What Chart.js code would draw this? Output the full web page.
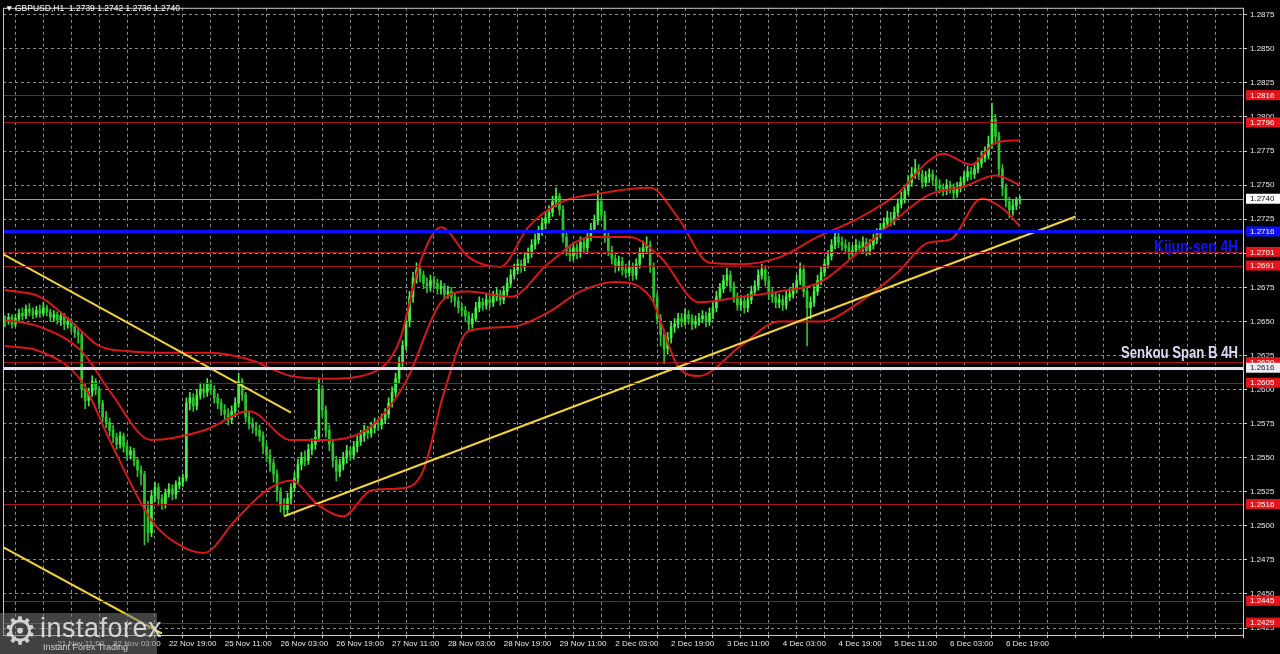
<!DOCTYPE html>
<html>
<head>
<meta charset="utf-8">
<script src="https://cdn.jsdelivr.net/npm/chart.js@4.4.1/dist/chart.umd.min.js"></script>
<style>
  html, body { margin: 0; padding: 0; background: #000; }
  #wrap { position: relative; width: 1280px; height: 654px; overflow: hidden; }
  #logo { position: absolute; left: 0; top: 613px; width: 157px; height: 41px;
          background: rgba(120,120,120,0.55); font-family: "Liberation Sans", Arial, sans-serif; }
  #logo .gear { position: absolute; left: 3px; top: -4px; font-size: 38px; color: rgba(235,235,235,0.85);
                font-family: "DejaVu Sans", sans-serif; }
  #logo .brand { position: absolute; left: 40px; top: 0px; font-size: 27px; letter-spacing: 0.5px;
                 color: rgba(235,235,235,0.85); }
  #logo .tag { position: absolute; left: 43px; top: 29px; font-size: 9px; color: rgba(235,235,235,0.8); }
</style>
</head>
<body>
<div id="wrap">
  <canvas id="myChart" width="1280" height="654"></canvas>
  <div id="logo"><div class="gear">⚙</div><div class="brand">instaforex</div><div class="tag">Instant Forex Trading</div></div>
</div>
<script>
// GBPUSD H1, bars from 20 Nov 20:00 to 6 Dec 23:00 (bar index = x value)
const closes = [
  1.2650,1.2653,1.2648,1.2652,1.2656,1.2654,1.2659,1.2657,1.2655,1.2658,
  1.2656,1.2660,1.2657,1.2653,1.2655,1.2651,1.2654,1.2648,1.2650,1.2646,
  1.2642,1.2640,1.2600,1.2592,1.2598,1.2606,1.2600,1.2590,1.2580,1.2576,
  1.2570,1.2565,1.2560,1.2566,1.2558,1.2552,1.2555,1.2548,1.2541,1.2538,
  1.2512,1.2495,1.2522,1.2528,1.2520,1.2516,1.2524,1.2527,1.2523,1.2530,
  1.2532,1.2535,1.2590,1.2594,1.2588,1.2596,1.2600,1.2598,1.2604,1.2600,
  1.2594,1.2590,1.2585,1.2582,1.2578,1.2584,1.2590,1.2606,1.2596,1.2580,
  1.2575,1.2572,1.2570,1.2566,1.2558,1.2552,1.2546,1.2538,1.2525,1.2515,
  1.2512,1.2520,1.2528,1.2535,1.2545,1.2550,1.2548,1.2556,1.2560,1.2565,
  1.2600,1.2585,1.2570,1.2560,1.2548,1.2540,1.2545,1.2550,1.2555,1.2552,
  1.2558,1.2562,1.2566,1.2570,1.2568,1.2572,1.2575,1.2574,1.2578,1.2582,
  1.2590,1.2598,1.2608,1.2620,1.2632,1.2650,1.2668,1.2682,1.2688,1.2684,
  1.2678,1.2676,1.2680,1.2678,1.2674,1.2676,1.2670,1.2672,1.2668,1.2665,
  1.2660,1.2658,1.2654,1.2648,1.2652,1.2660,1.2664,1.2662,1.2666,1.2664,
  1.2668,1.2670,1.2666,1.2672,1.2678,1.2684,1.2688,1.2692,1.2690,1.2696,
  1.2700,1.2706,1.2710,1.2716,1.2722,1.2726,1.2730,1.2738,1.2742,1.2732,
  1.2712,1.2702,1.2698,1.2704,1.2700,1.2708,1.2704,1.2712,1.2718,1.2724,
  1.2738,1.2728,1.2712,1.2702,1.2696,1.2690,1.2694,1.2688,1.2686,1.2690,
  1.2684,1.2692,1.2700,1.2704,1.2706,1.2690,1.2668,1.2652,1.2640,1.2630,
  1.2638,1.2646,1.2648,1.2652,1.2650,1.2655,1.2652,1.2648,1.2650,1.2652,
  1.2654,1.2650,1.2656,1.2660,1.2668,1.2674,1.2680,1.2684,1.2676,1.2668,
  1.2662,1.2665,1.2660,1.2666,1.2672,1.2676,1.2684,1.2688,1.2680,1.2670,
  1.2668,1.2664,1.2666,1.2662,1.2668,1.2670,1.2674,1.2680,1.2688,1.2672,
  1.2660,1.2664,1.2672,1.2680,1.2686,1.2692,1.2698,1.2706,1.2712,1.2708,
  1.2706,1.2704,1.2700,1.2702,1.2706,1.2704,1.2708,1.2702,1.2706,1.2710,
  1.2714,1.2718,1.2722,1.2726,1.2724,1.2730,1.2736,1.2740,1.2746,1.2752,
  1.2758,1.2762,1.2758,1.2752,1.2756,1.2758,1.2754,1.2750,1.2748,1.2746,
  1.2750,1.2748,1.2744,1.2748,1.2752,1.2756,1.2760,1.2758,1.2762,1.2766,
  1.2770,1.2772,1.2780,1.2798,1.2786,1.2762,1.2748,1.2738,1.2732,1.2735,
  1.2739,1.2740
];
const highs = [
  1.2654,1.2656,1.2655,1.2655,1.2659,1.2660,1.2662,1.2663,1.2660,1.2661,
  1.2662,1.2664,1.2662,1.2659,1.2658,1.2657,1.2657,1.2656,1.2653,1.2652,
  1.2648,1.2645,1.2642,1.2604,1.2601,1.2610,1.2608,1.2602,1.2592,1.2584,
  1.2579,1.2574,1.2568,1.2569,1.2568,1.2561,1.2558,1.2557,1.2550,1.2544,
  1.2540,1.2518,1.2526,1.2532,1.2531,1.2523,1.2527,1.2531,1.2530,1.2533,
  1.2536,1.2538,1.2594,1.2598,1.2597,1.2600,1.2605,1.2604,1.2608,1.2607,
  1.2603,1.2597,1.2593,1.2589,1.2586,1.2588,1.2594,1.2612,1.2608,1.2598,
  1.2584,1.2579,1.2576,1.2574,1.2569,1.2561,1.2556,1.2549,1.2541,1.2528,
  1.2520,1.2524,1.2531,1.2539,1.2549,1.2554,1.2555,1.2560,1.2564,1.2570,
  1.2608,1.2603,1.2588,1.2574,1.2563,1.2551,1.2549,1.2554,1.2559,1.2558,
  1.2562,1.2566,1.2570,1.2574,1.2573,1.2576,1.2579,1.2578,1.2582,1.2586,
  1.2594,1.2602,1.2612,1.2624,1.2636,1.2654,1.2672,1.2686,1.2693,1.2691,
  1.2687,1.2682,1.2684,1.2683,1.2681,1.2680,1.2678,1.2676,1.2675,1.2671,
  1.2668,1.2663,1.2661,1.2657,1.2656,1.2664,1.2668,1.2667,1.2670,1.2669,
  1.2672,1.2674,1.2673,1.2676,1.2682,1.2688,1.2692,1.2696,1.2695,1.2700,
  1.2704,1.2710,1.2714,1.2720,1.2726,1.2730,1.2735,1.2742,1.2748,1.2744,
  1.2735,1.2715,1.2706,1.2708,1.2707,1.2712,1.2711,1.2716,1.2722,1.2728,
  1.2746,1.2741,1.2731,1.2715,1.2705,1.2699,1.2698,1.2697,1.2692,1.2694,
  1.2693,1.2696,1.2704,1.2709,1.2712,1.2709,1.2693,1.2671,1.2655,1.2644,
  1.2642,1.2650,1.2652,1.2656,1.2656,1.2659,1.2658,1.2655,1.2654,1.2656,
  1.2658,1.2657,1.2660,1.2664,1.2672,1.2678,1.2684,1.2689,1.2687,1.2679,
  1.2671,1.2669,1.2668,1.2670,1.2676,1.2680,1.2688,1.2692,1.2691,1.2683,
  1.2674,1.2671,1.2670,1.2669,1.2672,1.2674,1.2678,1.2684,1.2693,1.2691,
  1.2675,1.2668,1.2676,1.2684,1.2690,1.2696,1.2702,1.2710,1.2717,1.2715,
  1.2712,1.2710,1.2708,1.2706,1.2710,1.2709,1.2712,1.2711,1.2710,1.2714,
  1.2718,1.2722,1.2726,1.2731,1.2730,1.2734,1.2740,1.2745,1.2750,1.2757,
  1.2763,1.2769,1.2765,1.2761,1.2760,1.2762,1.2761,1.2757,1.2754,1.2751,
  1.2754,1.2753,1.2751,1.2752,1.2756,1.2760,1.2764,1.2763,1.2766,1.2770,
  1.2775,1.2778,1.2786,1.2810,1.2802,1.2789,1.2765,1.2751,1.2741,1.2739,
  1.2741,1.2742
];
const lows = [
  1.2646,1.2648,1.2645,1.2646,1.2650,1.2651,1.2652,1.2654,1.2652,1.2653,
  1.2653,1.2654,1.2654,1.2650,1.2650,1.2648,1.2647,1.2644,1.2645,1.2642,
  1.2638,1.2634,1.2594,1.2586,1.2588,1.2595,1.2596,1.2586,1.2576,1.2572,
  1.2566,1.2561,1.2556,1.2557,1.2554,1.2548,1.2549,1.2544,1.2536,1.2530,
  1.2486,1.2488,1.2492,1.2518,1.2515,1.2512,1.2513,1.2521,1.2519,1.2520,
  1.2527,1.2529,1.2533,1.2585,1.2584,1.2585,1.2593,1.2594,1.2595,1.2596,
  1.2590,1.2586,1.2581,1.2578,1.2574,1.2575,1.2580,1.2587,1.2592,1.2576,
  1.2571,1.2568,1.2566,1.2562,1.2553,1.2547,1.2540,1.2532,1.2518,1.2510,
  1.2508,1.2509,1.2516,1.2525,1.2531,1.2541,1.2544,1.2545,1.2552,1.2556,
  1.2562,1.2580,1.2565,1.2555,1.2543,1.2533,1.2536,1.2541,1.2546,1.2548,
  1.2549,1.2554,1.2559,1.2562,1.2564,1.2565,1.2568,1.2570,1.2571,1.2575,
  1.2579,1.2587,1.2595,1.2605,1.2617,1.2629,1.2646,1.2664,1.2678,1.2679,
  1.2674,1.2671,1.2672,1.2674,1.2670,1.2670,1.2666,1.2667,1.2664,1.2661,
  1.2656,1.2654,1.2650,1.2644,1.2645,1.2650,1.2657,1.2658,1.2659,1.2660,
  1.2661,1.2665,1.2662,1.2663,1.2669,1.2675,1.2681,1.2685,1.2686,1.2687,
  1.2693,1.2697,1.2703,1.2707,1.2713,1.2718,1.2722,1.2727,1.2734,1.2728,
  1.2708,1.2698,1.2694,1.2695,1.2696,1.2697,1.2700,1.2701,1.2709,1.2715,
  1.2721,1.2724,1.2708,1.2698,1.2692,1.2686,1.2687,1.2684,1.2682,1.2683,
  1.2680,1.2681,1.2689,1.2697,1.2700,1.2686,1.2664,1.2648,1.2632,1.2619,
  1.2626,1.2634,1.2642,1.2645,1.2646,1.2647,1.2648,1.2644,1.2645,1.2647,
  1.2649,1.2646,1.2647,1.2652,1.2657,1.2665,1.2671,1.2676,1.2672,1.2664,
  1.2658,1.2658,1.2656,1.2657,1.2663,1.2669,1.2673,1.2681,1.2676,1.2666,
  1.2664,1.2660,1.2660,1.2658,1.2659,1.2665,1.2667,1.2671,1.2677,1.2668,
  1.2632,1.2652,1.2661,1.2669,1.2677,1.2683,1.2689,1.2695,1.2703,1.2704,
  1.2702,1.2700,1.2696,1.2697,1.2699,1.2700,1.2701,1.2698,1.2699,1.2703,
  1.2707,1.2711,1.2715,1.2719,1.2720,1.2721,1.2727,1.2733,1.2737,1.2743,
  1.2749,1.2755,1.2754,1.2748,1.2749,1.2752,1.2750,1.2746,1.2744,1.2742,
  1.2743,1.2744,1.2740,1.2741,1.2745,1.2749,1.2753,1.2754,1.2755,1.2759,
  1.2763,1.2767,1.2769,1.2777,1.2780,1.2756,1.2742,1.2734,1.2726,1.2728,
  1.2732,1.2736
];
const firstOpen = 1.2651;
// each hourly bar opens where the previous one closed
const opens = [firstOpen, ...closes.slice(0, -1)];

// red envelope lines, read at a few bars
const upperBand = [
  [0,1.2673],[10,1.2668],[19,1.2650],[27,1.2632],[36,1.2628],[47,1.2627],[59,1.2627],[70,1.2622],
  [82,1.2610],[93,1.2608],[105,1.2612],[113,1.2635],[119,1.2693],[125,1.2719],[133,1.2697],[142,1.2690],
  [150,1.2719],[159,1.2737],[171,1.2744],[185,1.2748],[193,1.2726],[202,1.2693],[211,1.2692],[222,1.2697],
  [233,1.2712],[245,1.2726],[256,1.2744],[265,1.2768],[269,1.2773],[277,1.2765],[284,1.2781],[291,1.2783]
];
const middleBand = [
  [0,1.2651],[10,1.2646],[22,1.2628],[30,1.2599],[42,1.2563],[57,1.2570],[70,1.2584],[82,1.2563],
  [93,1.2563],[105,1.2573],[115,1.2606],[125,1.2664],[133,1.2672],[145,1.2668],[156,1.2693],[168,1.2712],
  [179,1.2712],[188,1.2697],[199,1.2664],[211,1.2668],[222,1.2672],[234,1.2679],[243,1.2697],[256,1.2726],
  [265,1.2743],[275,1.2749],[284,1.2757],[291,1.2750]
];
const lowerBand = [
  [0,1.2632],[10,1.2628],[22,1.2606],[30,1.2563],[42,1.2504],[50,1.2486],[57,1.2480],[66,1.2504],
  [75,1.2526],[82,1.2533],[90,1.2515],[97,1.2507],[105,1.2526],[115,1.2528],[120,1.2541],[126,1.2599],
  [133,1.2643],[145,1.2646],[156,1.2657],[165,1.2672],[175,1.2679],[185,1.2668],[193,1.2617],[199,1.2610],
  [211,1.2632],[222,1.2650],[234,1.2650],[245,1.2664],[256,1.2686],[265,1.2708],[271,1.2710],[280,1.2740],
  [286,1.2733],[291,1.2720]
];

// yellow trend lines [bar, price] at their two ends
const trendDown = [[-1, 1.2700], [82, 1.2583]];
const trendUp = [[80, 1.2507], [307, 1.2727]];
const trendLow = [[-1, 1.2485], [45, 1.2421]];

// horizontal levels
const redLevels = [1.2816, 1.2796, 1.2701, 1.2691, 1.2620, 1.2605, 1.2516, 1.2445, 1.2429];
const kijun = 1.2716;
const senkouB = 1.2616;
const lastPrice = 1.2740;

const priceTicks = [1.2425,1.2450,1.2475,1.2500,1.2525,1.2550,1.2575,1.2600,1.2625,1.2650,
  1.2675,1.2700,1.2725,1.2750,1.2775,1.2800,1.2825,1.2850,1.2875];
const timeLabels = ['21 Nov 11:00','22 Nov 03:00','22 Nov 19:00','25 Nov 11:00','26 Nov 03:00',
  '26 Nov 19:00','27 Nov 11:00','28 Nov 03:00','28 Nov 19:00','29 Nov 11:00','2 Dec 03:00',
  '2 Dec 19:00','3 Dec 11:00','4 Dec 03:00','4 Dec 19:00','5 Dec 11:00','6 Dec 03:00','6 Dec 19:00'];
const firstLabelBar = 15;   // bar of '21 Nov 11:00'
const labelStep = 16;       // bars between time labels
const gridStep = 8;         // bars between vertical grid lines

const FONT = '"Liberation Sans", Arial, sans-serif';

const bull = '#46ee46', bear = '#2ec42e';
const barColors = closes.map((c, i) => c >= opens[i] ? bull : bear);

const pts = arr => arr.map(p => ({x: p[0], y: p[1]}));

// narrow bold caption, squeezed to the width it has in the picture
const caption = (ctx, text, right, baseline, width, color) => {
  ctx.save();
  ctx.font = 'bold 17px ' + FONT;
  const k = width / ctx.measureText(text).width;
  ctx.translate(right - width, baseline);
  ctx.scale(k, 1);
  ctx.textAlign = 'left';
  ctx.textBaseline = 'alphabetic';
  ctx.fillStyle = color;
  ctx.fillText(text, 0, 0);
  ctx.restore();
};

const overlay = {
  id: 'overlay',
  afterDatasetsDraw(chart) {
    const {ctx, chartArea: a, scales: {y}} = chart;
    ctx.save();
    ctx.beginPath();
    ctx.rect(a.left, a.top, a.right - a.left, a.bottom - a.top);
    ctx.clip();
    const hline = (v, color, w) => {
      const py = Math.round(y.getPixelForValue(v)) + (w % 2 ? 0.5 : 0);
      ctx.strokeStyle = color; ctx.lineWidth = w;
      ctx.beginPath(); ctx.moveTo(a.left, py); ctx.lineTo(a.right, py); ctx.stroke();
    };
    hline(lastPrice, '#9a9a9a', 1);
    redLevels.forEach(v => hline(v, '#a0151a', 1));
    hline(kijun, '#0a10ff', 3);
    hline(senkouB, '#e6e2f2', 3);

    caption(ctx, 'Kijun-sen 4H', a.right - 6, y.getPixelForValue(kijun) + 21, 84, '#1010ff');
    caption(ctx, 'Senkou Span B 4H', a.right - 6, y.getPixelForValue(senkouB) - 10, 117, '#dcd8ee');
    ctx.restore();
  },
  afterDraw(chart) {
    const {ctx, chartArea: a, scales: {y}} = chart;
    ctx.save();
    // frame
    ctx.strokeStyle = '#c8c8c8'; ctx.lineWidth = 1;
    ctx.strokeRect(a.left + 0.5, a.top + 0.5, a.right - a.left - 1, a.bottom - a.top);
    // price labels on the axis
    ctx.font = '8px ' + FONT;
    ctx.textAlign = 'left';
    ctx.textBaseline = 'middle';
    const tag = (v, bg, fg) => {
      const py = y.getPixelForValue(v);
      ctx.fillStyle = bg;
      ctx.fillRect(a.right + 2, py - 5, 34, 10);
      ctx.fillStyle = fg;
      ctx.fillText(v.toFixed(4), a.right + 6, py + 0.5);
    };
    redLevels.forEach(v => tag(v, '#e3141a', '#ffffff'));
    tag(kijun, '#0a10ff', '#ffffff');
    tag(senkouB, '#ececf4', '#202020');
    tag(lastPrice, '#ffffff', '#000000');
    // title
    ctx.fillStyle = '#ffffff';
    ctx.font = '8.5px ' + FONT;
    ctx.fillText('\u25BC', 5, 9);
    ctx.fillText('GBPUSD,H1  1.2739 1.2742 1.2736 1.2740', 15, 9);
    ctx.restore();
  }
};

const makeChart = () => {
  const data = {
    datasets: [{
      type: 'line',
      data: pts(trendDown),
      borderColor: '#f2d33a', borderWidth: 2, pointRadius: 0, order: 1
    }, {
      type: 'line',
      data: pts(trendUp),
      borderColor: '#f2d33a', borderWidth: 2, pointRadius: 0, order: 1
    }, {
      type: 'line',
      data: pts(trendLow),
      borderColor: '#f2d33a', borderWidth: 2, pointRadius: 0, order: 1
    }, {
      type: 'line',
      data: pts(upperBand),
      borderColor: '#d81818', borderWidth: 2, pointRadius: 0, cubicInterpolationMode: 'monotone', order: 2
    }, {
      type: 'line',
      data: pts(middleBand),
      borderColor: '#d81818', borderWidth: 2, pointRadius: 0, cubicInterpolationMode: 'monotone', order: 2
    }, {
      type: 'line',
      data: pts(lowerBand),
      borderColor: '#d81818', borderWidth: 2, pointRadius: 0, cubicInterpolationMode: 'monotone', order: 2
    }, {
      type: 'bar',
      data: closes.map((c, i) => ({x: i, y: [opens[i], c]})),
      backgroundColor: barColors,
      barThickness: 2, minBarLength: 1, grouped: false, order: 3
    }, {
      type: 'bar',
      data: closes.map((c, i) => ({x: i, y: [lows[i], highs[i]]})),
      backgroundColor: barColors,
      barThickness: 1, grouped: false, order: 4
    }]
  };

  const config = {
    type: 'bar',
    data,
    options: {
      responsive: false,
      animation: false,
      events: [],
      layout: { padding: { left: 3, top: 3, right: 0, bottom: 0 } },
      plugins: { legend: { display: false }, tooltip: { enabled: false } },
      scales: {
        x: {
          type: 'linear',
          min: -0.57, max: 355.27,
          offset: false,
          afterFit: s => { s.height = 19; },
          afterBuildTicks: s => {
            const t = [];
            for (let v = firstLabelBar - gridStep; v <= s.max; v += gridStep) t.push({value: v});
            s.ticks = t;
          },
          grid: { color: '#8c8c8c', tickColor: '#c8c8c8', tickLength: 3, tickBorderDash: [] },
          border: { display: false, dash: [3, 3] },
          ticks: {
            autoSkip: false, maxRotation: 0, align: 'start', padding: 1,
            color: '#e8e8e8', font: { family: FONT, size: 8 },
            callback: v => {
              const k = (v - firstLabelBar) / labelStep;
              return Number.isInteger(k) && k >= 0 && k < timeLabels.length ? timeLabels[k] : '';
            }
          }
        },
        y: {
          type: 'linear',
          position: 'right',
          min: 1.24199, max: 1.28801,
          afterFit: s => { s.width = 36; },
          afterBuildTicks: s => { s.ticks = priceTicks.map(v => ({value: v})); },
          grid: { color: '#8c8c8c', tickColor: '#c8c8c8', tickLength: 3, tickBorderDash: [] },
          border: { display: false, dash: [3, 3] },
          ticks: {
            padding: 3, color: '#e8e8e8', font: { family: FONT, size: 8 },
            callback: v => v.toFixed(4)
          }
        }
      }
    },
    plugins: [overlay]
  };

  let myChart = new Chart('myChart', config);
};

makeChart();
</script>
</body>
</html>
